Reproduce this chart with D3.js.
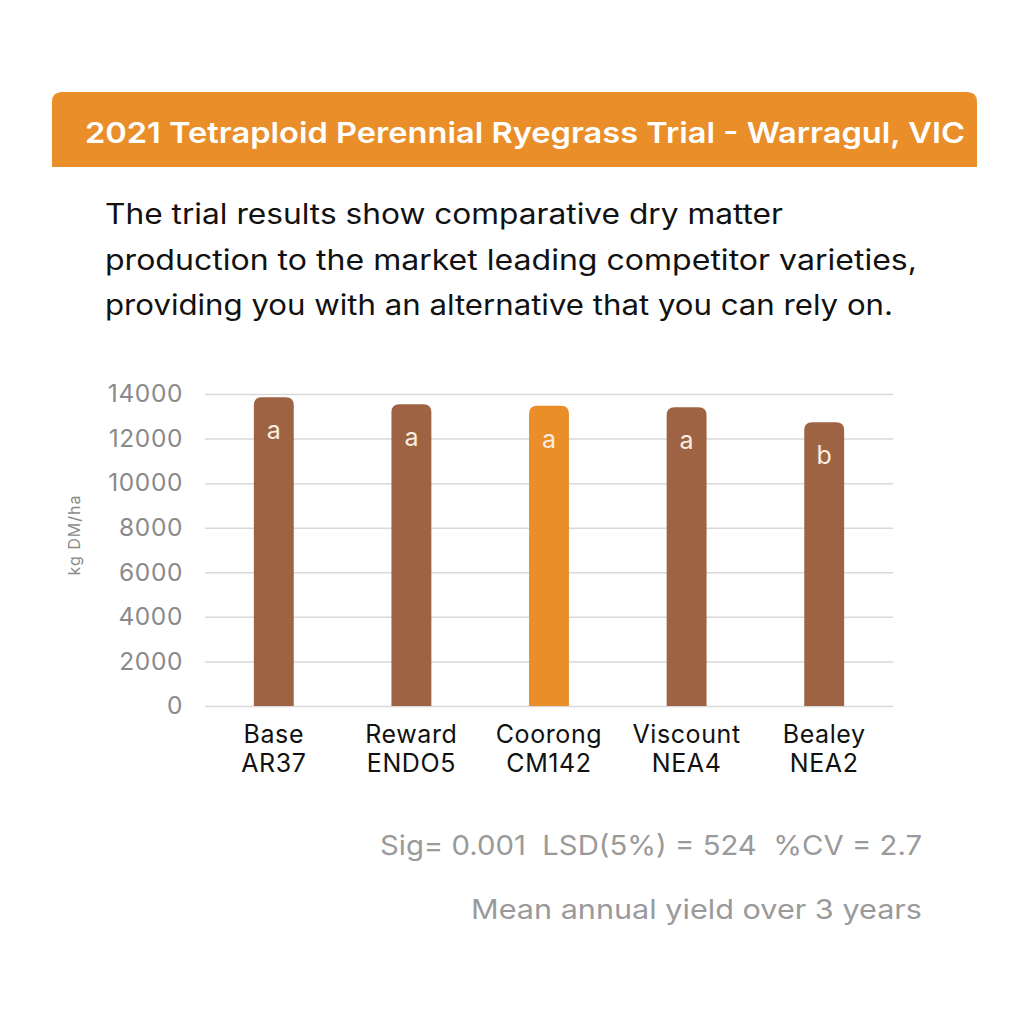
<!DOCTYPE html>
<html>
<head>
<meta charset="utf-8">
<script src="https://cdn.jsdelivr.net/npm/d3@7"></script>
<style>
  html, body { margin: 0; padding: 0; background: #fff; }
  svg { display: block; font-family: Inter, "Open Sans", sans-serif; }
</style>
</head>
<body>
<div id="chart"></div>
<script>
// Chart data
const varieties = ['Base', 'Reward', 'Coorong', 'Viscount', 'Bealey'];
const endophytes = ['AR37', 'ENDO5', 'CM142', 'NEA4', 'NEA2'];
const yields = [13850, 13540, 13470, 13410, 12730];
const sigLetters = ['a', 'a', 'a', 'a', 'b'];
const highlighted = 'Coorong';
const yTicks = [0, 2000, 4000, 6000, 8000, 10000, 12000, 14000];

const titleText = '2021 Tetraploid Perennial Ryegrass Trial - Warragul, VIC';
const introLines = [
    'The trial results show comparative dry matter',
    'production to the market leading competitor varieties,',
    'providing you with an alternative that you can rely on.'
];
const introWidths = [678, 812, 788];
const statsText = 'Sig= 0.001  LSD(5%) = 524  %CV = 2.7';
const noteText = 'Mean annual yield over 3 years';

const BROWN = '#9e6343';
const ORANGE = '#e98e29';

const svg = d3.select('#chart')
    .append('svg')
    .attr('width', 1024)
    .attr('height', 1024)
    .attr('viewBox', '0 0 1024 1024');

// Title banner (rounded top corners only)
const bx = 52, by = 92, bw = 925, bh = 75, br = 10;
svg.append('path')
    .attr('d', `M${bx},${by + bh} V${by + br} Q${bx},${by} ${bx + br},${by} H${bx + bw - br} Q${bx + bw},${by} ${bx + bw},${by + br} V${by + bh} Z`)
    .attr('fill', ORANGE);

svg.append('text')
    .attr('x', 85)
    .attr('y', 143)
    .attr('fill', '#fff')
    .attr('font-size', 29)
    .attr('font-weight', 600)
    .attr('textLength', 880)
    .attr('lengthAdjust', 'spacingAndGlyphs')
    .text(titleText);

// Intro paragraph
svg.append('g')
    .selectAll('text')
    .data(introLines)
    .join('text')
    .attr('x', 105)
    .attr('y', (d, i) => 224 + i * 45.5)
    .attr('fill', '#111')
    .attr('font-size', 28)
    .attr('textLength', (d, i) => introWidths[i])
    .attr('lengthAdjust', 'spacingAndGlyphs')
    .text(d => d);

// Chart area
const margin = { top: 394, left: 205 };
const width = 688;
const height = 312;

const g = svg.append('g')
    .attr('transform', `translate(${margin.left},${margin.top})`);

const x = d3.scaleBand()
    .domain(varieties)
    .range([0, width])
    .paddingInner(0.71)
    .paddingOuter(0.355);

const y = d3.scaleLinear()
    .domain([0, 14000])
    .range([height, 0]);

// Grid lines
g.append('g')
    .attr('class', 'grid')
    .call(d3.axisLeft(y).tickValues(yTicks).tickSize(-width).tickFormat(''))
    .call(sel => sel.select('.domain').remove())
    .call(sel => sel.selectAll('line').attr('stroke', '#d9d9d9').attr('stroke-width', 1.5));

// Y axis labels
g.append('g')
    .attr('class', 'y-axis axis')
    .call(d3.axisLeft(y).tickValues(yTicks).tickSize(0).tickPadding(22).tickFormat(d3.format('d')))
    .call(sel => sel.select('.domain').remove())
    .call(sel => sel.selectAll('text')
        .attr('fill', '#8a8a8a')
        .attr('font-size', 24.5)
        .attr('letter-spacing', 0.6)
        .attr('font-family', 'Inter, "Open Sans", sans-serif'));

// Y axis title
g.append('text')
    .attr('class', 'axis-label')
    .attr('transform', 'rotate(-90)')
    .attr('x', -141)
    .attr('y', -125)
    .attr('text-anchor', 'middle')
    .attr('fill', '#8a8a8a')
    .attr('font-size', 16)
    .attr('letter-spacing', 1)
    .text('kg DM/ha');

// Bars with rounded tops
const data = varieties.map((v, i) => ({
    variety: v, endophyte: endophytes[i], value: yields[i], letter: sigLetters[i]
}));

const r = 8;
g.selectAll('.bar')
    .data(data)
    .join('path')
    .attr('class', 'bar data-element')
    .attr('fill', d => d.variety === highlighted ? ORANGE : BROWN)
    .attr('d', d => {
        const x0 = x(d.variety), x1 = x0 + x.bandwidth();
        const yt = y(d.value), yb = y(0);
        return `M${x0},${yb} V${yt + r} Q${x0},${yt} ${x0 + r},${yt} H${x1 - r} Q${x1},${yt} ${x1},${yt + r} V${yb} Z`;
    });

// Significance letters
g.selectAll('.sig')
    .data(data)
    .join('text')
    .attr('class', 'sig data-element')
    .attr('x', d => x(d.variety) + x.bandwidth() / 2)
    .attr('y', d => y(d.value) + 42)
    .attr('text-anchor', 'middle')
    .attr('fill', '#fbeee0')
    .attr('font-size', 25)
    .text(d => d.letter);

// X axis labels (two lines)
const xLabels = g.selectAll('.x-label')
    .data(data)
    .join('text')
    .attr('class', 'x-label')
    .attr('text-anchor', 'middle')
    .attr('fill', '#111')
    .attr('font-size', 25)
    .attr('letter-spacing', 0.6);

xLabels.append('tspan')
    .attr('x', d => x(d.variety) + x.bandwidth() / 2)
    .attr('y', height + 37)
    .text(d => d.variety);

xLabels.append('tspan')
    .attr('x', d => x(d.variety) + x.bandwidth() / 2)
    .attr('y', height + 66)
    .text(d => d.endophyte);

// Footer notes
svg.append('text')
    .attr('x', 922)
    .attr('y', 855)
    .attr('text-anchor', 'end')
    .attr('fill', '#9a9a9a')
    .attr('font-size', 27)
    .attr('textLength', 542)
    .attr('lengthAdjust', 'spacingAndGlyphs')
    .style('white-space', 'pre')
    .text(statsText);

svg.append('text')
    .attr('x', 922)
    .attr('y', 919)
    .attr('text-anchor', 'end')
    .attr('fill', '#9a9a9a')
    .attr('font-size', 27)
    .attr('textLength', 451)
    .attr('lengthAdjust', 'spacingAndGlyphs')
    .text(noteText);
</script>
</body>
</html>
